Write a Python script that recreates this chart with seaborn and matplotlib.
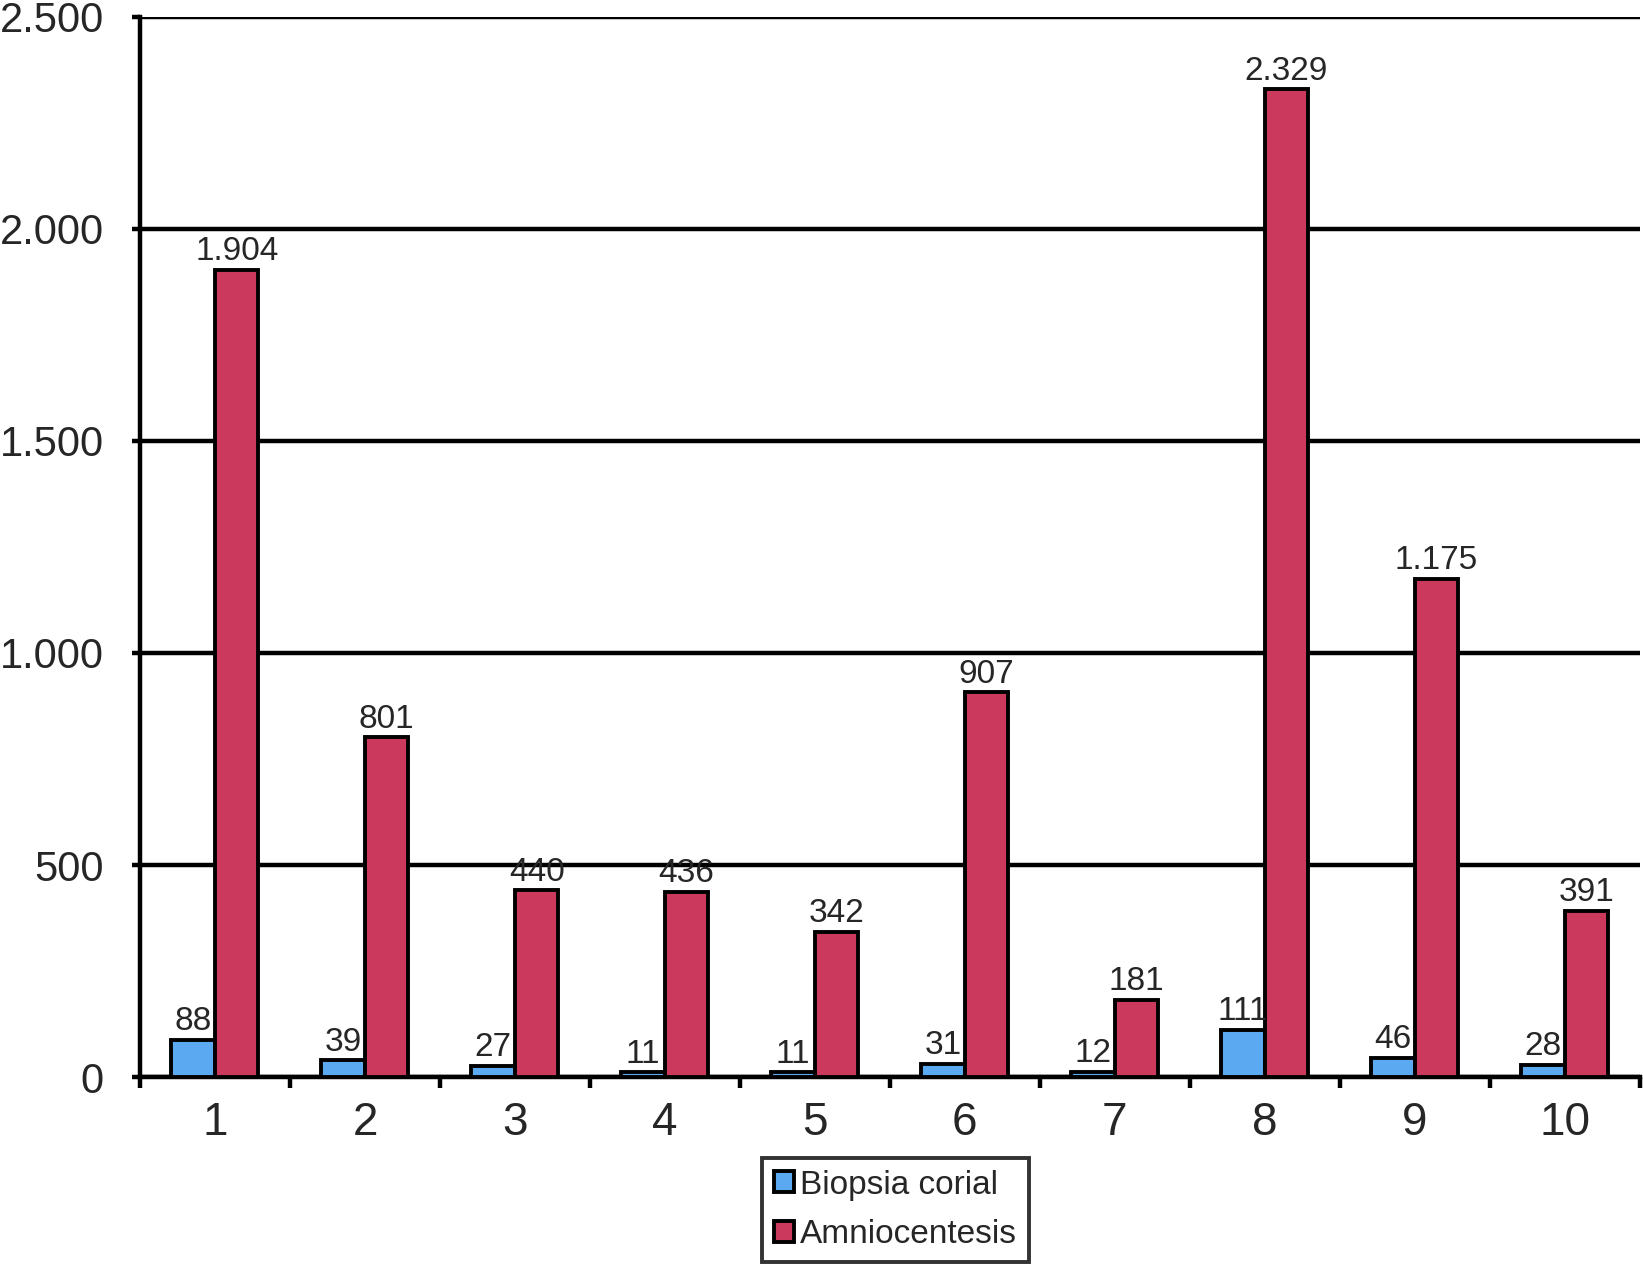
import numpy as np
import pandas as pd
import seaborn as sns
import matplotlib.pyplot as plt

# data
groups = ['1', '2', '3', '4', '5', '6', '7', '8', '9', '10']
series = ['Biopsia corial', 'Amniocentesis']
biopsia = [88, 39, 27, 11, 11, 31, 12, 111, 46, 28]
amnio = [1904, 801, 440, 436, 342, 907, 181, 2329, 1175, 391]
yticks = [0, 500, 1000, 1500, 2000, 2500]

colors = {'Biopsia corial': '#5BA9F0', 'Amniocentesis': '#CB3A5C'}

df = pd.DataFrame({
    'Grupo': groups * 2,
    'Serie': [series[0]] * len(groups) + [series[1]] * len(groups),
    'Valor': biopsia + amnio,
})


def fmt(v):
    # Spanish style thousands separator
    return f'{v:,}'.replace(',', '.')


sns.set_style('white')
plt.rcParams['font.family'] = ['Liberation Sans', 'DejaVu Sans']

fig = plt.figure(figsize=(16.43, 12.65), dpi=100)
ax = fig.add_axes([0.0852, 0.1486, 0.9128, 0.838])

sns.barplot(data=df, x='Grupo', y='Valor', hue='Serie', order=groups,
            hue_order=series, palette=colors, width=0.58, gap=0,
            edgecolor='black', linewidth=2.8, saturation=1, ax=ax, zorder=3)

for cont, vals in zip(ax.containers, [biopsia, amnio]):
    ax.bar_label(cont, labels=[fmt(v) for v in vals], padding=2,
                 fontsize=24, zorder=4)

ax.set_ylim(0, 2500)
ax.set_xlim(-0.5, 9.5)
ax.set_yticks(yticks)
ax.set_yticklabels([fmt(v) for v in yticks])
ax.yaxis.grid(True, color='black', linewidth=3.2, zorder=1)
ax.set_axisbelow(True)
ax.set_xlabel('')
ax.set_ylabel('')

ax.set_xticks(np.arange(-0.5, 10, 1), minor=True)
ax.tick_params(axis='x', which='major', length=0, pad=17, labelsize=33)
ax.tick_params(axis='x', which='minor', length=8, width=3.2, color='black',
               direction='out', bottom=True)
ax.tick_params(axis='y', length=6, width=3.2, color='black', left=True,
               direction='out', pad=20, labelsize=30)

for s in ['top', 'right']:
    ax.spines[s].set_visible(False)
for s in ['left', 'bottom']:
    ax.spines[s].set_color('black')
    ax.spines[s].set_linewidth(3.2)

leg = ax.legend(loc='upper center', bbox_to_anchor=(0.545, 0.0846),
                bbox_transform=fig.transFigure, fontsize=24, frameon=True,
                fancybox=False, handlelength=0.6, handleheight=0.6,
                handletextpad=0.2, borderpad=0.35, labelspacing=0.55,
                borderaxespad=0)
leg.get_frame().set_edgecolor('black')
leg.get_frame().set_linewidth(2.8)
for h in leg.legend_handles:
    h.set_edgecolor('black')
    h.set_linewidth(2.8)

fig.savefig('out.png', dpi=100)
